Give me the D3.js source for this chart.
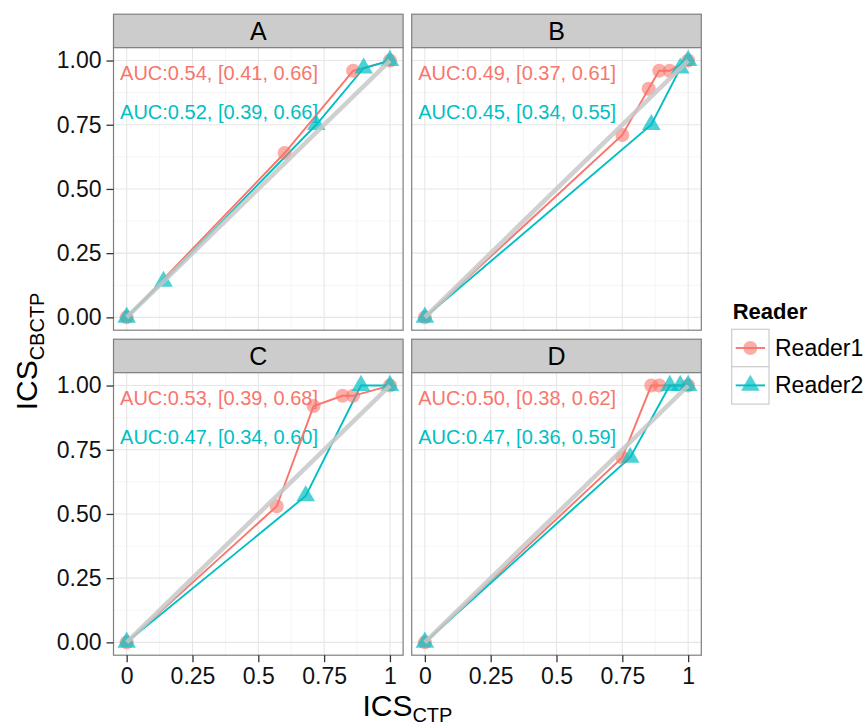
<!DOCTYPE html>
<head>
    <meta charset="utf-8">
    <title>ICS CBCTP vs CTP</title>
    <script src="https://cdn.jsdelivr.net/npm/d3@7/dist/d3.min.js"></script>
</head>

<body style="margin:0; background:#fff;">

<div id="container"></div>

<script type="text/javascript">
    // facets and series
    const panels = ["A", "B", "C", "D"];
    const readers = ["Reader1", "Reader2"];

    // [ICS_CTP, ICS_CBCTP] points
    const reader1A = [[0, 0], [0.60, 0.64], [0.86, 0.96], [1, 1]];
    const reader2A = [[0, 0], [0.14, 0.14], [0.72, 0.75], [0.90, 0.97], [1, 1]];
    const reader1B = [[0, 0], [0.75, 0.71], [0.85, 0.89], [0.89, 0.96], [0.93, 0.96], [1, 1]];
    const reader2B = [[0, 0], [0.86, 0.75], [0.97, 0.97], [1, 1]];
    const reader1C = [[0, 0], [0.57, 0.53], [0.71, 0.92], [0.82, 0.96], [0.86, 0.96], [1, 1]];
    const reader2C = [[0, 0], [0.68, 0.57], [0.89, 1.0], [1, 1]];
    const reader1D = [[0, 0], [0.75, 0.72], [0.86, 1.0], [0.89, 1.0], [1, 1]];
    const reader2D = [[0, 0], [0.78, 0.72], [0.93, 1.0], [0.97, 1.0], [1, 1]];

    // AUC with confidence interval, per panel
    const auc1 = [[0.54, 0.41, 0.66], [0.49, 0.37, 0.61], [0.53, 0.39, 0.68], [0.50, 0.38, 0.62]];
    const auc2 = [[0.52, 0.39, 0.66], [0.45, 0.34, 0.55], [0.47, 0.34, 0.60], [0.47, 0.36, 0.59]];

    const xTicks = [0, 0.25, 0.5, 0.75, 1];
    const xTickLabels = ["0", "0.25", "0.5", "0.75", "1"];
    const yTicks = [0, 0.25, 0.5, 0.75, 1];
    const minorTicks = [0.125, 0.375, 0.625, 0.875];

    const series = {
        A: [reader1A, reader2A], B: [reader1B, reader2B],
        C: [reader1C, reader2C], D: [reader1D, reader2D]
    };

    const color = d3.scaleOrdinal().domain(readers).range(["#f8766d", "#00bfc4"]);
    const font = "'Liberation Sans', Arial, Helvetica, sans-serif";

    // layout of the 2x2 facet grid
    const colX = [113.5, 411.7],
        rowY = [47.7, 372.7],
        panelW = 289.6,
        panelH = 282.5,
        stripH = 33.5;

    const x = d3.scaleLinear().domain([-0.05, 1.05]).range([0, panelW]);
    const y = d3.scaleLinear().domain([-0.05, 1.05]).range([panelH, 0]);

    const svg = d3.select("#container")
        .append("svg")
        .attr("width", 865)
        .attr("height", 727)
        .style("font-family", font);

    const line = d3.line().x(d => x(d[0])).y(d => y(d[1]));
    const tri = d3.symbol().type(d3.symbolTriangle).size(150);

    panels.forEach(function (p, i) {
        const col = i % 2, row = Math.floor(i / 2);
        const g = svg.append("g")
            .attr("transform", `translate(${colX[col]},${rowY[row]})`);

        // strip
        g.append("rect")
            .attr("x", 0).attr("y", -stripH)
            .attr("width", panelW).attr("height", stripH)
            .attr("fill", "#cccccc")
            .attr("stroke", "#7f7f7f")
            .attr("stroke-width", 1.2);
        g.append("text")
            .attr("x", panelW / 2).attr("y", -stripH / 2)
            .attr("text-anchor", "middle")
            .attr("dominant-baseline", "central")
            .style("font-size", "25px")
            .text(p);

        // grid
        g.append("rect").attr("width", panelW).attr("height", panelH).attr("fill", "#fff");
        minorTicks.forEach(t => {
            g.append("line").attr("x1", x(t)).attr("x2", x(t)).attr("y1", 0).attr("y2", panelH)
                .attr("stroke", "#f2f2f2").attr("stroke-width", 0.8);
            g.append("line").attr("y1", y(t)).attr("y2", y(t)).attr("x1", 0).attr("x2", panelW)
                .attr("stroke", "#f2f2f2").attr("stroke-width", 0.8);
        });
        xTicks.forEach(t => {
            g.append("line").attr("x1", x(t)).attr("x2", x(t)).attr("y1", 0).attr("y2", panelH)
                .attr("stroke", "#e6e6e6").attr("stroke-width", 1.1);
        });
        yTicks.forEach(t => {
            g.append("line").attr("y1", y(t)).attr("y2", y(t)).attr("x1", 0).attr("x2", panelW)
                .attr("stroke", "#e6e6e6").attr("stroke-width", 1.1);
        });

        // annotations
        [auc1[i], auc2[i]].forEach(function (a, k) {
            g.append("text")
                .attr("x", x(-0.025))
                .attr("y", y(k === 0 ? 0.95 : 0.80))
                .attr("dominant-baseline", "central")
                .style("font-size", "20px")
                .attr("fill", color(readers[k]))
                .text(`AUC:${a[0].toFixed(2)}, [${a[1].toFixed(2)}, ${a[2].toFixed(2)}]`);
        });

        // lines
        series[p].forEach(function (pts, k) {
            g.append("path")
                .datum(pts)
                .attr("d", line)
                .attr("fill", "none")
                .attr("stroke", color(readers[k]))
                .attr("stroke-width", 1.9);
        });

        // points
        g.selectAll("circle.r1")
            .data(series[p][0])
            .join("circle")
            .attr("cx", d => x(d[0]))
            .attr("cy", d => y(d[1]))
            .attr("r", 7)
            .attr("fill", color("Reader1"))
            .attr("opacity", 0.6);
        g.selectAll("path.r2")
            .data(series[p][1])
            .join("path")
            .attr("class", "r2")
            .attr("d", tri)
            .attr("transform", d => `translate(${x(d[0])},${y(d[1])})`)
            .attr("fill", color("Reader2"))
            .attr("opacity", 0.7);

        // identity line
        g.append("line")
            .attr("x1", x(0)).attr("y1", y(0))
            .attr("x2", x(1)).attr("y2", y(1))
            .attr("stroke", "#c8c8c8")
            .attr("stroke-width", 4.5)
            .attr("opacity", 0.85);

        // border
        g.append("rect")
            .attr("width", panelW).attr("height", panelH)
            .attr("fill", "none")
            .attr("stroke", "#7f7f7f")
            .attr("stroke-width", 1.2);

        // axes only on outer panels
        if (col === 0) {
            const ay = g.append("g")
                .call(d3.axisLeft(y).tickValues(yTicks).tickFormat(d3.format(".2f")).tickSize(7).tickPadding(5));
            ay.select(".domain").remove();
            ay.selectAll("line").attr("stroke", "#333").attr("stroke-width", 1.3);
            ay.selectAll("text").style("font-size", "23px").style("font-family", font).attr("fill", "#111");
        }
        if (row === 1) {
            const ax = g.append("g")
                .attr("transform", `translate(0,${panelH})`)
                .call(d3.axisBottom(x).tickValues(xTicks).tickFormat((d, j) => xTickLabels[j]).tickSize(7).tickPadding(5));
            ax.select(".domain").remove();
            ax.selectAll("line").attr("stroke", "#333").attr("stroke-width", 1.3);
            ax.selectAll("text").style("font-size", "23px").style("font-family", font).attr("fill", "#111");
        }
    });

    // axis titles
    const xt = svg.append("text")
        .attr("x", (colX[0] + colX[1] + panelW) / 2)
        .attr("y", 716)
        .attr("text-anchor", "middle")
        .style("font-size", "30px");
    xt.append("tspan").text("ICS");
    xt.append("tspan").attr("dy", 6).style("font-size", "20px").text("CTP");

    const yt = svg.append("text")
        .attr("transform", `translate(37,${(rowY[0] + rowY[1] + panelH) / 2}) rotate(-90)`)
        .attr("text-anchor", "middle")
        .style("font-size", "30px");
    yt.append("tspan").text("ICS");
    yt.append("tspan").attr("dy", 7).style("font-size", "20px").text("CBCTP");

    // legend
    const lg = svg.append("g").attr("transform", "translate(731.7,300)");
    lg.append("text")
        .attr("x", 1).attr("y", 19)
        .style("font-size", "22px")
        .style("font-weight", "bold")
        .text("Reader");
    readers.forEach(function (r, k) {
        const ky = 29.3 + k * 37.4;
        lg.append("rect")
            .attr("x", 0).attr("y", ky)
            .attr("width", 37.3).attr("height", 37.4)
            .attr("fill", "#fff")
            .attr("stroke", "#cccccc")
            .attr("stroke-width", 1.2);
        lg.append("line")
            .attr("x1", 4).attr("x2", 33.3)
            .attr("y1", ky + 18.7).attr("y2", ky + 18.7)
            .attr("stroke", color(r)).attr("stroke-width", 1.9);
        if (k === 0) {
            lg.append("circle").attr("cx", 18.65).attr("cy", ky + 18.7).attr("r", 7)
                .attr("fill", color(r)).attr("opacity", 0.6);
        } else {
            lg.append("path").attr("d", tri)
                .attr("transform", `translate(18.65,${ky + 18.7})`)
                .attr("fill", color(r)).attr("opacity", 0.7);
        }
        lg.append("text")
            .attr("x", 43.3).attr("y", ky + 18.7)
            .attr("dominant-baseline", "central")
            .style("font-size", "23px")
            .text(r);
    });
</script>
</body>
